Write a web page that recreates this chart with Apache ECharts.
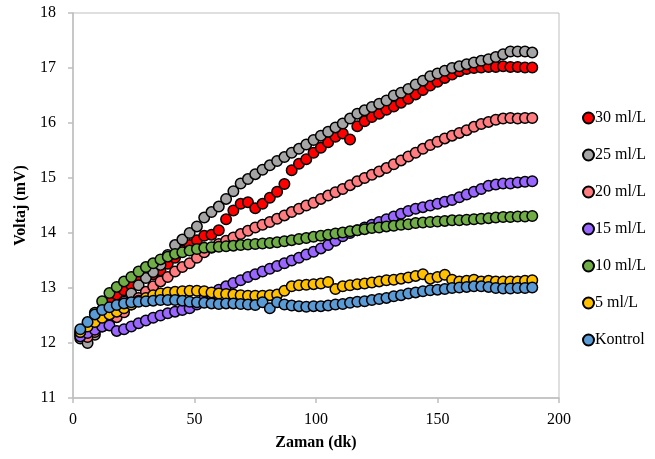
<!DOCTYPE html>
<html>
<head>
<meta charset="utf-8">
<script src="https://cdn.jsdelivr.net/npm/echarts@6/dist/echarts.min.js"></script>
<style>html,body{margin:0;padding:0;background:#fff}#c{width:655px;height:459px}</style>
</head>
<body>
<div id="c"></div>
<script>
var times = [3,6,9,12,15,18,21,24,27,30,33,36,39,42,45,48,51,54,57,60,63,66,69,72,75,78,81,84,87,90,93,96,99,102,105,108,111,114,117,120,123,126,129,132,135,138,141,144,147,150,153,156,159,162,165,168,171,174,177,180,183,186,189];

var seriesNames = ["30 ml/L","25 ml/L","20 ml/L","15 ml/L","10 ml/L","5 ml/L","Kontrol"];
var seriesColors = ["#FF0000","#A5A5A5","#FF7C80","#9966FF","#70AD47","#FFC000","#5B9BD5"];

var v30 = [12.15,12.12,12.3,12.6,12.78,12.88,12.96,13.05,13.12,13.2,13.25,13.32,13.44,13.55,13.68,13.78,13.87,13.95,13.97,14.05,14.25,14.41,14.53,14.56,14.45,14.53,14.64,14.75,14.89,15.14,15.26,15.34,15.46,15.55,15.65,15.75,15.81,15.7,15.94,16.03,16.11,16.17,16.24,16.3,16.37,16.44,16.52,16.6,16.68,16.75,16.82,16.88,16.94,16.98,17.0,17.01,17.02,17.02,17.03,17.02,17.02,17.01,17.01];
var v25 = [12.08,12.0,12.15,12.35,12.5,12.62,12.75,12.9,13.05,13.18,13.29,13.42,13.6,13.78,13.88,14.0,14.12,14.28,14.38,14.48,14.62,14.76,14.9,14.98,15.07,15.15,15.23,15.31,15.38,15.46,15.53,15.61,15.69,15.77,15.84,15.92,15.99,16.08,16.17,16.23,16.29,16.35,16.41,16.5,16.55,16.62,16.7,16.77,16.85,16.9,16.95,17.0,17.03,17.07,17.1,17.13,17.16,17.2,17.25,17.3,17.3,17.3,17.28];
var v20 = [12.15,12.11,12.2,12.3,12.4,12.47,12.56,12.7,12.82,12.93,13.03,13.12,13.2,13.3,13.38,13.45,13.55,13.65,13.73,13.8,13.86,13.92,13.98,14.04,14.1,14.15,14.2,14.26,14.32,14.38,14.44,14.5,14.55,14.62,14.68,14.74,14.8,14.87,14.94,15.0,15.06,15.12,15.18,15.25,15.32,15.39,15.46,15.53,15.6,15.66,15.72,15.77,15.82,15.87,15.93,15.98,16.02,16.06,16.08,16.09,16.08,16.09,16.09];
var v15 = [12.12,12.18,12.24,12.3,12.32,12.22,12.25,12.3,12.36,12.41,12.46,12.5,12.54,12.57,12.6,12.63,12.7,12.8,12.88,12.97,13.03,13.09,13.14,13.2,13.25,13.3,13.35,13.4,13.45,13.5,13.55,13.61,13.66,13.72,13.78,13.86,13.94,14.0,14.05,14.1,14.15,14.2,14.25,14.3,14.35,14.4,14.44,14.47,14.5,14.53,14.57,14.6,14.65,14.7,14.75,14.8,14.86,14.88,14.9,14.9,14.92,14.93,14.94];
var v10 = [12.2,12.35,12.55,12.76,12.91,13.02,13.12,13.2,13.3,13.38,13.45,13.52,13.57,13.62,13.65,13.68,13.71,13.73,13.74,13.75,13.76,13.77,13.78,13.79,13.8,13.81,13.82,13.83,13.85,13.87,13.89,13.91,13.93,13.95,13.97,13.99,14.01,14.03,14.05,14.07,14.09,14.1,14.12,14.13,14.15,14.16,14.18,14.19,14.2,14.21,14.22,14.23,14.23,14.24,14.25,14.26,14.27,14.28,14.29,14.29,14.3,14.3,14.31];
var v5 = [12.2,12.3,12.38,12.46,12.52,12.57,12.63,12.7,12.77,12.82,12.87,12.9,12.92,12.93,12.94,12.95,12.95,12.94,12.92,12.9,12.89,12.88,12.87,12.86,12.86,12.86,12.87,12.88,12.95,13.03,13.05,13.06,13.07,13.08,13.11,12.98,13.03,13.05,13.07,13.08,13.1,13.12,13.14,13.15,13.17,13.19,13.22,13.25,13.17,13.2,13.24,13.15,13.12,13.13,13.15,13.12,13.13,13.12,13.12,13.12,13.12,13.13,13.14];
var vK = [12.25,12.38,12.52,12.6,12.65,12.69,12.72,12.74,12.75,12.76,12.77,12.78,12.78,12.78,12.77,12.75,12.74,12.73,12.72,12.71,12.72,12.72,12.71,12.7,12.69,12.74,12.63,12.74,12.7,12.68,12.67,12.66,12.67,12.67,12.68,12.7,12.71,12.73,12.75,12.76,12.78,12.8,12.82,12.85,12.87,12.9,12.92,12.94,12.96,12.97,12.98,13.0,13.01,13.02,13.03,13.03,13.02,13.0,12.99,12.99,13.0,13.0,13.01];

var seriesValues = [v30, v25, v20, v15, v10, v5, vK];

var serif = '"Liberation Serif", "Times New Roman", serif';
var axisGray = '#BFBFBF';

var chart = echarts.init(document.getElementById('c'), null, {renderer: 'canvas'});
var series = seriesNames.map(function (name, i) {
  return {
    name: name,
    type: 'scatter',
    symbol: 'circle',
    symbolSize: 10.5,
    itemStyle: { color: seriesColors[i], borderColor: '#000', borderWidth: 1.5, opacity: 1 },
    emphasis: { disabled: true },
    data: times.map(function (t, j) { return [t, seriesValues[i][j]]; })
  };
});

chart.setOption({
  animation: false,
  backgroundColor: '#fff',
  grid: { left: 73, top: 13, width: 486, height: 385, show: true, borderColor: axisGray, borderWidth: 1, backgroundColor: 'transparent' },
  xAxis: {
    type: 'value', min: 0, max: 200, interval: 50,
    name: 'Zaman (dk)', nameLocation: 'middle', nameGap: 37,
    nameTextStyle: { fontFamily: serif, fontSize: 16, fontWeight: 'bold', color: '#000' },
    axisLine: { show: true, lineStyle: { color: axisGray, width: 1.5 } },
    axisTick: { show: true, inside: false, length: 5, lineStyle: { color: axisGray, width: 1.5 } },
    axisLabel: { fontFamily: serif, fontSize: 16, color: '#000', margin: 14 },
    splitLine: { show: false }
  },
  yAxis: {
    type: 'value', min: 11, max: 18, interval: 1,
    name: 'Voltaj (mV)', nameLocation: 'middle', nameGap: 43, nameRotate: 90,
    nameTextStyle: { fontFamily: serif, fontSize: 16, fontWeight: 'bold', color: '#000' },
    axisLine: { show: true, lineStyle: { color: axisGray, width: 1.5 } },
    axisTick: { show: true, inside: false, length: 5, lineStyle: { color: axisGray, width: 1.5 } },
    axisLabel: { fontFamily: serif, fontSize: 16, color: '#000', margin: 17 },
    splitLine: { show: false }
  },
  legend: {
    orient: 'vertical', left: 577, top: 105,
    itemWidth: 11, itemHeight: 11, itemGap: 21,
    icon: 'circle',
    textStyle: { fontFamily: serif, fontSize: 16, color: '#000', padding: [0, 0, 0, -4] },
    data: seriesNames
  },
  series: series
});
</script>
</body>
</html>
